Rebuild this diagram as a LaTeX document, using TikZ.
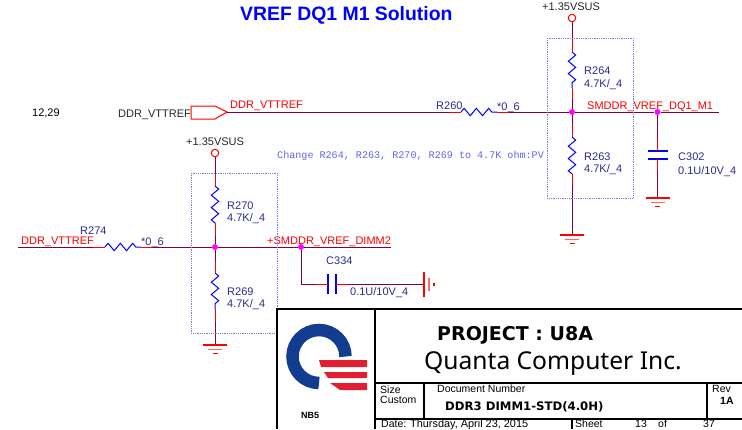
\documentclass[tikz,border=0pt]{standalone}
\usepackage{fontspec}
\setmainfont{Liberation Sans}
\newfontfamily\monofont{Liberation Mono}
\newfontfamily\titlefont{Noto Sans}
\newfontfamily\heavyfont{DejaVu Sans}
\usetikzlibrary{calc,decorations.pathmorphing}
\definecolor{wire}{HTML}{800040}
\definecolor{refblue}{HTML}{2B2B8C}
\definecolor{boxblue}{HTML}{7A7AF0}
\definecolor{logoblue}{HTML}{123C90}
\definecolor{logored}{HTML}{E02030}
\definecolor{partblue}{RGB}{0,0,255}
\definecolor{gndred}{RGB}{255,0,0}
\definecolor{dotmagenta}{RGB}{255,0,255}
\tikzset{
  wireline/.style={wire,line width=1pt},
  stub/.style={gndred,line width=1pt},
  res/.style={partblue,line width=1pt,decorate,decoration={zigzag,segment length=12.3pt,amplitude=3.7pt}},
  dotbox/.style={boxblue,densely dotted,line width=0.8pt},
  lbl/.style={inner sep=0pt,anchor=west,yshift=-1.2pt,font=\fontsize{11}{11}\selectfont},
  reflbl/.style={lbl,refblue},
  netlbl/.style={lbl,gndred},
  blocklbl/.style={lbl,font=\fontsize{10.5}{10.5}\selectfont},
  blk/.style={black,line width=1.3pt},
  junction/.style={circle,fill=dotmagenta,inner sep=0pt,minimum size=6pt},
  power/.style={circle,draw=gndred,line width=1pt,inner sep=0pt,minimum size=7.5pt},
  gndline/.style={gndred,line width=1.5pt}
}
\newcommand{\gndmark}[1]{
  \draw[gndline] ($(#1)+(-12,0)$) -- ($(#1)+(12,0)$);
  \draw[gndline,gndred!60] ($(#1)+(-7,4.5)$) -- ($(#1)+(7,4.5)$);
  \draw[gndline] ($(#1)+(-2.5,8.5)$) -- ($(#1)+(2.5,8.5)$);
}
\begin{document}
\begin{tikzpicture}[x=1pt,y=-1pt]
  \useasboundingbox (0,0) rectangle (742,429);
  \node[lbl,blue,font=\fontsize{19.4}{19.4}\selectfont\bfseries] (title) at (240,14) {VREF DQ1 M1 Solution};
  \node[lbl] (page) at (32,112) {12,29};
  \node[lbl,black!85] (vttname) at (118,114) {DDR\_VTTREF};
  \node[lbl,boxblue!80!blue,font=\fontsize{10.1}{10.1}\monofont] (note) at (277,155) {Change R264, R263, R270, R269 to 4.7K ohm:PV};

  % upper branch
  \draw[gndred,line width=1pt] (191,106) -- (215,106) -- (227,112) -- (215,119) -- (191,119) -- cycle;
  \coordinate (tag) at (227,112);
  \coordinate (r260a) at (461,112);
  \coordinate (r260b) at (497,112);
  \node[junction] (j1) at (572,112) {};
  \node[junction] (j2) at (657.5,112) {};
  \coordinate (end1) at (719,112);
  \draw[wireline] (tag) -- (r260a);
  \draw[wireline] (r260b) -- (j1) -- (j2) -- (end1);
  \draw[res] (r260a) -- (r260b);
  \node[netlbl] (vtt1) at (230,105) {DDR\_VTTREF};
  \node[reflbl] (r260) at (436,105) {R260};
  \node[reflbl] (r260v) at (497,106.5) {*0\_6};
  \node[netlbl] (dq1) at (587,106) {SMDDR\_VREF\_DQ1\_M1};

  % R264 and R263
  \node[power] (pwr1) at (572,18) {};
  \node[lbl,black!85] (pwr1l) at (542,6) {+1.35VSUS};
  \coordinate (r264a) at (572,52);
  \coordinate (r264b) at (572,88);
  \coordinate (r263a) at (572,137);
  \coordinate (r263b) at (572,174);
  \coordinate (g1) at (572,235);
  \draw[wireline] (pwr1) -- (r264a);
  \draw[res] (r264a) -- (r264b);
  \draw[wireline] (r264b) -- (j1) -- (r263a);
  \draw[res] (r263a) -- (r263b);
  \draw[wireline] (r263b) -- (g1);
  \gndmark{g1}
  \draw[dotbox] (547,38) rectangle (633,198);
  \node[reflbl] (r264) at (584,70) {R264};
  \node[reflbl] (r264v) at (584,83) {4.7K/\_4};
  \node[reflbl] (r263) at (584,156) {R263};
  \node[reflbl] (r263v) at (584,168) {4.7K/\_4};

  % C302
  \coordinate (c302a) at (657.5,151);
  \coordinate (c302b) at (657.5,159);
  \coordinate (g2) at (657.5,198);
  \draw[wireline] (j2) -- (c302a);
  \draw[wireline] (c302b) -- (g2);
  \draw[partblue,line width=1.5pt] (647.5,151) -- (667.5,151) (647.5,159) -- (667.5,159);
  \gndmark{g2}
  \node[reflbl] (c302) at (678,156) {C302};
  \node[reflbl] (c302v) at (678,170) {0.1U/10V\_4};

  % lower branch
  \coordinate (start2) at (18,247);
  \coordinate (r274a) at (105,247);
  \coordinate (r274b) at (141,247);
  \node[junction] (j3) at (215,247) {};
  \node[junction] (j4) at (301,247) {};
  \coordinate (end2) at (391,247);
  \draw[wireline] (start2) -- (r274a);
  \draw[res] (r274a) -- (r274b);
  \draw[wireline] (r274b) -- (j3) -- (j4) -- (end2);
  \node[netlbl] (vtt2) at (21,241) {DDR\_VTTREF};
  \node[reflbl] (r274) at (80,229) {R274};
  \node[reflbl] (r274v) at (141,242) {*0\_6};
  \node[netlbl] (dimm2) at (267,241) {+SMDDR\_VREF\_DIMM2};

  % R270 and R269
  \node[power] (pwr2) at (215,153) {};
  \node[lbl,black!85] (pwr2l) at (186,141) {+1.35VSUS};
  \coordinate (r270a) at (215,186);
  \coordinate (r270b) at (215,224);
  \coordinate (r269a) at (215,273);
  \coordinate (r269b) at (215,309);
  \coordinate (g3) at (215,345);
  \draw[wireline] (pwr2) -- (r270a);
  \draw[res] (r270a) -- (r270b);
  \draw[wireline] (r270b) -- (j3) -- (r269a);
  \draw[res] (r269a) -- (r269b);
  \draw[wireline] (r269b) -- (g3);
  \gndmark{g3}
  \draw[dotbox] (191,173) rectangle (277,333);
  \node[reflbl] (r270) at (227,205) {R270};
  \node[reflbl] (r270v) at (227,217) {4.7K/\_4};
  \node[reflbl] (r269) at (227,291) {R269};
  \node[reflbl] (r269v) at (227,303) {4.7K/\_4};

  % C334
  \coordinate (bend) at (301,284);
  \coordinate (c334a) at (328,284);
  \coordinate (c334b) at (336,284);
  \coordinate (g4) at (424,284);
  \draw[wireline] (j4) -- (bend) -- (c334a);
  \draw[wireline] (c334b) -- (g4);
  \draw[partblue,line width=1.5pt] (328,274) -- (328,294) (336,274) -- (336,294);
  \draw[gndline] (424,272) -- (424,297);
  \draw[gndline,gndred!60] (429,278) -- (429,291);
  \draw[gndline] (434,283) -- (434,286);
  \node[reflbl] (c334) at (326,260) {C334};
  \node[reflbl] (c334v) at (350,291) {0.1U/10V\_4};

  % red ends beside the parts
  \foreach \a/\b in {r260a/r260b,r264a/r264b,r263a/r263b,r274a/r274b,r270a/r270b,r269a/r269b,c302a/c302b,c334a/c334b}
    \draw[stub] ($(\a)!-12pt!(\b)$) -- (\a) (\b) -- ($(\b)!-12pt!(\a)$);

  % title block
  \fill[white] (277,309) rectangle (742,429);
  \draw[blk] (742,309) -- (277,309) -- (277,429);
  \draw[blk] (375,309) -- (375,429);
  \draw[blk] (375,383) -- (742,383);
  \draw[blk] (375,419) -- (742,419);
  \draw[blk] (424,383) -- (424,419);
  \draw[blk] (707,383) -- (707,419);
  \draw[blk] (572,419) -- (572,429);
  \draw[logoblue,line width=12.5pt] (345.5,356.5) arc (0:-270:26.5);
  \fill[logored] (319,360) -- (367,360) -- (367,367) -- (321,367) -- cycle;
  \fill[logored] (324,372) -- (367,372) -- (367,378) -- (328,378) -- cycle;
  \fill[logored] (330,383) -- (367,383) -- (367,390) -- (340,390) -- cycle;
  \node[lbl,font=\fontsize{9}{9}\selectfont\bfseries] (nb5) at (301,414) {NB5};
  \node[lbl,font=\fontsize{19}{19}\heavyfont\bfseries] (project) at (437,334) {PROJECT : U8A};
  \node[lbl,font=\fontsize{24.6}{24.6}\titlefont] (company) at (424,362) {Quanta Computer Inc.};
  \node[blocklbl] (size) at (380,389) {Size};
  \node[blocklbl] (custom) at (380,399) {Custom};
  \node[blocklbl] (docnum) at (437,388) {Document Number};
  \node[lbl,font=\fontsize{11.7}{11.7}\heavyfont\bfseries] (docname) at (445,406) {DDR3 DIMM1-STD(4.0H)};
  \node[blocklbl] (rev) at (712,388) {Rev};
  \node[blocklbl,font=\fontsize{10.5}{10.5}\selectfont\bfseries] (revval) at (720,400) {1A};
  \node[blocklbl] (date) at (381,423) {Date:};
  \node[blocklbl,font=\fontsize{10.9}{10.9}\selectfont] (dateval) at (410,423) {Thursday, April 23, 2015};
  \node[blocklbl] (sheet) at (575,423) {Sheet};
  \node[blocklbl] (sheetval) at (635,423) {13};
  \node[blocklbl] (of) at (658,423) {of};
  \node[blocklbl] (total) at (703,423) {37};
\end{tikzpicture}
\end{document}
